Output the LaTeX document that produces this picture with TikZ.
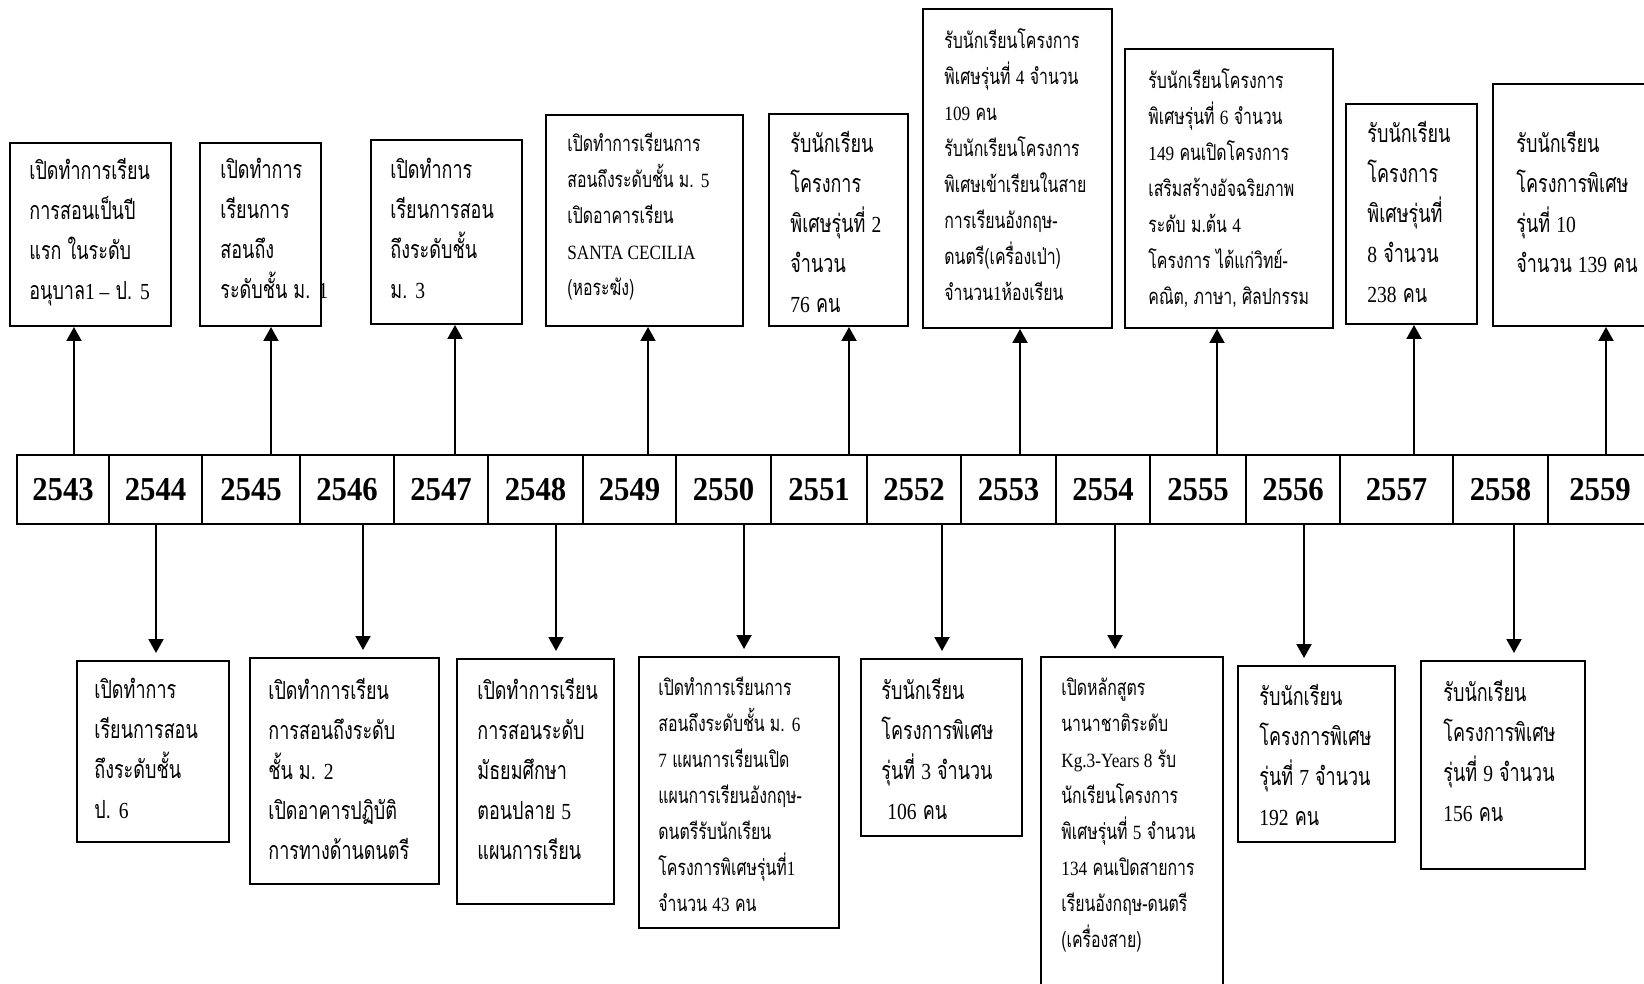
\documentclass[tikz,border=0pt]{standalone}
\usepackage{fontspec}
\usetikzlibrary{arrows.meta,fit}
\newfontfamily\thf[Script=Thai,FakeStretch=0.72]{Loma}
\newfontfamily\latf[FakeStretch=0.85,Scale=0.92]{Liberation Serif}
\newfontfamily\yrf[FakeStretch=0.92]{Liberation Serif}
\newcommand\ltn[1]{{\latf #1}}
\newcommand\yearcell[4]{\node[cell,minimum width={(#3-#2)*0.5pt},minimum height=34.5pt] (#1) at ({(#2+#3)/2},489.5) {#4};}
\begin{document}
\begin{tikzpicture}[x=0.5pt,y=-0.5pt,
 box/.style={draw,line width=1pt,inner sep=0pt},
 cell/.style={draw,line width=1.3pt,inner sep=0pt,font={\yrf\bfseries\fontsize{16.7}{16.7}\selectfont}},
 arr/.style={line width=1pt,-{Triangle[length=7pt,width=7.5pt]}},
 tb/.style={anchor=north west,inner sep=0pt,align=left,yshift=-1.5pt,font={\thf\fontsize{12.5}{20}\selectfont}},
 ts/.style={anchor=north west,inner sep=0pt,align=left,yshift=-1.5pt,font={\thf\fontsize{11}{18}\selectfont}}]
\useasboundingbox (0,0) rectangle (1644,984);
\clip (0,0) rectangle (1644,984);
% timeline cells
\yearcell{y43}{17}{109}{2543}
\yearcell{y44}{109}{202}{2544}
\yearcell{y45}{202}{300}{2545}
\yearcell{y46}{300}{394}{2546}
\yearcell{y47}{394}{488}{2547}
\yearcell{y48}{488}{583}{2548}
\yearcell{y49}{583}{676}{2549}
\yearcell{y50}{676}{771}{2550}
\yearcell{y51}{771}{867}{2551}
\yearcell{y52}{867}{961}{2552}
\yearcell{y53}{961}{1056}{2553}
\yearcell{y54}{1056}{1150}{2554}
\yearcell{y55}{1150}{1246}{2555}
\yearcell{y56}{1246}{1340}{2556}
\yearcell{y57}{1340}{1453}{2557}
\yearcell{y58}{1453}{1548}{2558}
\yearcell{y59}{1548}{1652}{2559}
% upper boxes
\node[box,fit={(10,143)(171,326)}] (b43) {};
\node[box,fit={(200,143)(321,326)}] (b45) {};
\node[box,fit={(371,140)(522,324)}] (b47) {};
\node[box,fit={(546,115)(743,326)}] (b49) {};
\node[box,fit={(769,114)(908,326)}] (b51) {};
\node[box,fit={(923,9)(1112,328)}] (b53) {};
\node[box,fit={(1125,49)(1333,328)}] (b55) {};
\node[box,fit={(1346,104)(1477,324)}] (b57) {};
\node[box,fit={(1493,84)(1652,326)}] (b59) {};
% lower boxes
\node[box,fit={(77,661)(229,842)}] (b44) {};
\node[box,fit={(250,658)(439,884)}] (b46) {};
\node[box,fit={(457,659)(614,904)}] (b48) {};
\node[box,fit={(639,657)(839,928)}] (b50) {};
\node[box,fit={(861,659)(1022,836)}] (b52) {};
\node[box,fit={(1041,657)(1223,992)}] (b54) {};
\node[box,fit={(1238,666)(1395,842)}] (b56) {};
\node[box,fit={(1421,661)(1585,869)}] (b58) {};
% texts upper
\node[tb] (t43) at (29,155) {เปิดทำการเรียน\\การสอนเป็นปี\\แรก ในระดับ\\อนุบาล\ltn{1 –} ป. \ltn{5}};
\node[tb] (t45) at (220,155) {เปิดทำการ\\เรียนการ\\สอนถึง\\ระดับชั้น ม. \ltn{1}};
\node[tb] (t47) at (390,155) {เปิดทำการ\\เรียนการสอน\\ถึงระดับชั้น\\ม. \ltn{3}};
\node[ts] (t49) at (567,129) {เปิดทำการเรียนการ\\สอนถึงระดับชั้น ม. \ltn{5}\\เปิดอาคารเรียน\\\ltn{SANTA CECILIA}\\(หอระฆัง)};
\node[tb] (t51) at (790,128) {รับนักเรียน\\โครงการ\\พิเศษรุ่นที่ \ltn{2}\\จำนวน\\\ltn{76} คน};
\node[ts] (t53) at (944,25) {รับนักเรียนโครงการ\\พิเศษรุ่นที่ \ltn{4} จำนวน\\\ltn{109} คน\\รับนักเรียนโครงการ\\พิเศษเข้าเรียนในสาย\\การเรียนอังกฤษ-\\ดนตรี(เครื่องเป่า)\\จำนวน\ltn{1}ห้องเรียน};
\node[ts] (t55) at (1148,65) {รับนักเรียนโครงการ\\พิเศษรุ่นที่ \ltn{6} จำนวน\\\ltn{149} คนเปิดโครงการ\\เสริมสร้างอัจฉริยภาพ\\ระดับ ม.ต้น \ltn{4}\\โครงการ ได้แก่วิทย์-\\คณิต, ภาษา, ศิลปกรรม};
\node[tb] (t57) at (1367,118) {รับนักเรียน\\โครงการ\\พิเศษรุ่นที่\\\ltn{8} จำนวน\\\ltn{238} คน};
\node[tb] (t59) at (1516,128) {รับนักเรียน\\โครงการพิเศษ\\รุ่นที่ \ltn{10}\\จำนวน \ltn{139} คน};
% texts lower
\node[tb] (t44) at (94,675) {เปิดทำการ\\เรียนการสอน\\ถึงระดับชั้น\\ป. \ltn{6}};
\node[tb] (t46) at (268,675) {เปิดทำการเรียน\\การสอนถึงระดับ\\ชั้น ม. \ltn{2}\\เปิดอาคารปฏิบัติ\\การทางด้านดนตรี};
\node[tb] (t48) at (477,675) {เปิดทำการเรียน\\การสอนระดับ\\มัธยมศึกษา\\ตอนปลาย \ltn{5}\\แผนการเรียน};
\node[ts] (t50) at (658,673) {เปิดทำการเรียนการ\\สอนถึงระดับชั้น ม. \ltn{6}\\\ltn{7} แผนการเรียนเปิด\\แผนการเรียนอังกฤษ-\\ดนตรีรับนักเรียน\\โครงการพิเศษรุ่นที่\ltn{1}\\จำนวน \ltn{43} คน};
\node[tb] (t52) at (881,675) {รับนักเรียน\\โครงการพิเศษ\\รุ่นที่ \ltn{3} จำนวน\\\hspace{3pt}\ltn{106} คน};
\node[ts] (t54) at (1061,674) {เปิดหลักสูตร\\นานาชาติระดับ\\\ltn{Kg.3-Years 8} รับ\\นักเรียนโครงการ\\พิเศษรุ่นที่ \ltn{5} จำนวน\\\ltn{134} คนเปิดสายการ\\เรียนอังกฤษ-ดนตรี\\(เครื่องสาย)};
\node[tb] (t56) at (1259,681) {รับนักเรียน\\โครงการพิเศษ\\รุ่นที่ \ltn{7} จำนวน\\\ltn{192} คน};
\node[tb] (t58) at (1443,677) {รับนักเรียน\\โครงการพิเศษ\\รุ่นที่ \ltn{9} จำนวน\\\ltn{156} คน};
% arrow x positions
\coordinate (a43) at (74,0);
\coordinate (a45) at (271,0);
\coordinate (a47) at (455,0);
\coordinate (a49) at (648,0);
\coordinate (a51) at (849,0);
\coordinate (a53) at (1020,0);
\coordinate (a55) at (1217,0);
\coordinate (a57) at (1414,0);
\coordinate (a59) at (1606,0);
\coordinate (a44) at (156,0);
\coordinate (a46) at (363,0);
\coordinate (a48) at (556,0);
\coordinate (a50) at (744,0);
\coordinate (a52) at (942,0);
\coordinate (a54) at (1115,0);
\coordinate (a56) at (1304,0);
\coordinate (a58) at (1514,0);
% upper arrows
\foreach \n in {43,45,47,49,51,53,55,57,59}
  \draw[arr] (y\n.north -| a\n) -- (b\n.south -| a\n);
% lower arrows
\foreach \n in {44,46,48,50,52,54,56,58}
  \draw[arr,shorten >=3.5pt] (y\n.south -| a\n) -- (b\n.north -| a\n);
\end{tikzpicture}
\end{document}
